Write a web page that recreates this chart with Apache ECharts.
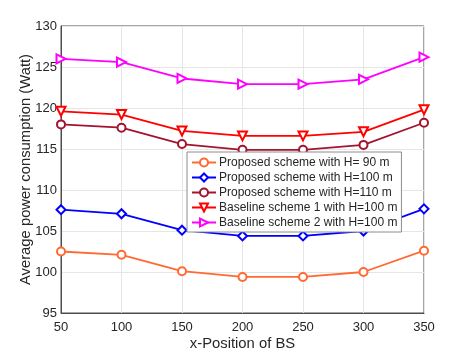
<!DOCTYPE html>
<html>
<head>
<meta charset="utf-8">
<script src="https://cdn.jsdelivr.net/npm/echarts@6/dist/echarts.min.js"></script>
<style>
html, body { margin: 0; padding: 0; background: #fff; }
#chart { width: 469px; height: 352px; }
</style>
</head>
<body>
<div id="chart"></div>
<script>
const xPositions = ['50', '100', '150', '200', '250', '300', '350']
const proposedH90 = [102.5, 102.1, 100.1, 99.4, 99.4, 100.0, 102.6]
const proposedH100 = [107.6, 107.1, 105.1, 104.4, 104.4, 105.0, 107.7]
const proposedH110 = [118.0, 117.6, 115.6, 114.9, 114.9, 115.5, 118.2]
const baseline1H100 = [119.6, 119.2, 117.2, 116.6, 116.6, 117.1, 119.8]
const baseline2H100 = [126.0, 125.6, 123.6, 122.9, 122.9, 123.5, 126.2]

const fontName = 'Liberation Sans'

function makeSeries (name, data, color, symbol, rotate, size) {
    return {
        name: name,
        type: 'line',
        data: data,
        symbol: symbol,
        symbolSize: size || 9,
        symbolRotate: rotate || 0,
        lineStyle: { width: 1.8, color: color },
        itemStyle: { color: color, borderColor: color, borderWidth: 1.6 },
        emphasis: { disabled: true }
    }
}

const chart = echarts.init(document.getElementById('chart'))
chart.setOption({
    animation: false,
    textStyle: { fontFamily: fontName },
    grid: {
        left: 61,
        right: 45,
        top: 26,
        bottom: 39,
        outerBoundsMode: 'none',
        show: true,
        borderColor: '#4d4d4d',
        borderWidth: 1,
        backgroundColor: '#fff'
    },
    legend: {
        orient: 'vertical',
        left: 187,
        top: 152,
        itemWidth: 24,
        itemHeight: 10,
        itemGap: 2,
        padding: [4, 4, 3, 4],
        backgroundColor: '#fff',
        borderColor: '#8c8c8c',
        borderWidth: 1,
        borderRadius: 0,
        textStyle: { fontFamily: fontName, fontSize: 12, lineHeight: 13, color: '#262626', padding: [0, 0, 0, -2] }
    },
    xAxis: {
        type: 'category',
        boundaryGap: false,
        data: xPositions,
        name: 'x-Position of BS',
        nameLocation: 'middle',
        nameGap: 23,
        nameMoveOverlap: false,
        nameTextStyle: { fontSize: 14.8, color: '#262626' },
        axisLine: { show: true, lineStyle: { color: '#4d4d4d' } },
        axisTick: { show: false },
        axisLabel: { fontSize: 13, color: '#262626', margin: 8 },
        splitLine: { show: true, lineStyle: { color: '#e6e6e6' } }
    },
    yAxis: {
        type: 'value',
        min: 95,
        max: 130,
        interval: 5,
        name: 'Average power consumption (Watt)',
        nameLocation: 'middle',
        nameGap: 28,
        nameMoveOverlap: false,
        nameTextStyle: { fontSize: 14.8, color: '#262626' },
        axisLine: { show: true, lineStyle: { color: '#4d4d4d' } },
        axisTick: { show: false },
        axisLabel: { fontSize: 13, color: '#262626', margin: 4 },
        splitLine: { show: true, lineStyle: { color: '#e6e6e6' } }
    },
    series: [
        makeSeries('Proposed scheme with H= 90 m', proposedH90, '#ff6a33', 'emptyCircle', 0, 8),
        makeSeries('Proposed scheme with H=100 m', proposedH100, '#0000ff', 'emptyDiamond', 0, 9),
        makeSeries('Proposed scheme with H=110 m', proposedH110, '#a2142f', 'emptyCircle', 0, 8),
        makeSeries('Baseline scheme 1 with H=100 m', baseline1H100, '#ff0000', 'emptyTriangle', 180, 9),
        makeSeries('Baseline scheme 2 with H=100 m', baseline2H100, '#ff00ff', 'emptyTriangle', -90, 9)
    ]
})
</script>
</body>
</html>
